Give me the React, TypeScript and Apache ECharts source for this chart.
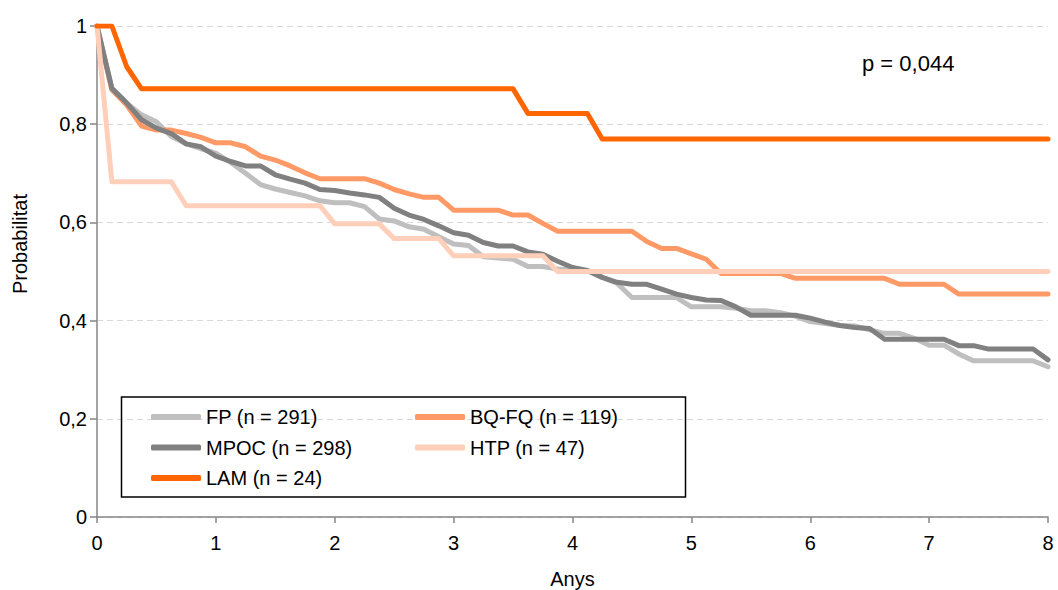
import React, { useEffect, useRef } from "react";
import * as echarts from "echarts";

// Kaplan–Meier style survival curves per diagnosis group (years on the x axis)
const fpX = [0, 0.125, 0.25, 0.375, 0.5, 0.625, 0.75, 0.875, 1, 1.125, 1.25, 1.375, 1.5, 1.625, 1.75, 1.875, 2, 2.125, 2.25, 2.375, 2.5, 2.625, 2.75, 2.875, 3, 3.125, 3.25, 3.5, 3.625, 3.75, 3.875, 4, 4.125, 4.25, 4.375, 4.5, 4.875, 5, 5.25, 5.375, 5.5, 5.625, 5.75, 5.875, 6, 6.125, 6.25, 6.375, 6.5, 6.625, 6.75, 6.875, 7, 7.125, 7.25, 7.375, 7.875, 8];
const fpY = [1, 0.873, 0.843, 0.819, 0.805, 0.775, 0.76, 0.75, 0.741, 0.722, 0.7, 0.677, 0.668, 0.661, 0.654, 0.644, 0.64, 0.64, 0.632, 0.607, 0.603, 0.591, 0.586, 0.571, 0.556, 0.553, 0.53, 0.525, 0.51, 0.51, 0.505, 0.503, 0.502, 0.488, 0.476, 0.447, 0.447, 0.428, 0.428, 0.425, 0.42, 0.42, 0.416, 0.409, 0.398, 0.394, 0.39, 0.389, 0.381, 0.374, 0.374, 0.364, 0.35, 0.35, 0.332, 0.318, 0.318, 0.306];

const bqX = [0, 0.125, 0.25, 0.375, 0.5, 0.625, 0.75, 0.875, 1, 1.125, 1.25, 1.375, 1.5, 1.625, 1.75, 1.875, 2.25, 2.375, 2.5, 2.625, 2.75, 2.875, 3, 3.375, 3.5, 3.625, 3.75, 3.875, 4.5, 4.625, 4.75, 4.875, 5, 5.125, 5.25, 5.75, 5.875, 6.625, 6.75, 7.125, 7.25, 8];
const bqY = [1, 0.87, 0.839, 0.796, 0.788, 0.788, 0.781, 0.773, 0.762, 0.762, 0.754, 0.735, 0.727, 0.715, 0.701, 0.689, 0.689, 0.68, 0.667, 0.658, 0.651, 0.651, 0.625, 0.625, 0.615, 0.615, 0.598, 0.582, 0.582, 0.561, 0.547, 0.547, 0.536, 0.525, 0.496, 0.496, 0.486, 0.486, 0.474, 0.474, 0.454, 0.454];

const mpocX = [0, 0.125, 0.25, 0.375, 0.5, 0.625, 0.75, 0.875, 1, 1.125, 1.25, 1.375, 1.5, 1.625, 1.75, 1.875, 2, 2.125, 2.25, 2.375, 2.5, 2.625, 2.75, 2.875, 3, 3.125, 3.25, 3.375, 3.5, 3.625, 3.75, 3.875, 4, 4.125, 4.25, 4.375, 4.5, 4.625, 4.75, 4.875, 5, 5.125, 5.25, 5.375, 5.5, 5.875, 6, 6.125, 6.25, 6.375, 6.5, 6.625, 7.125, 7.25, 7.375, 7.5, 7.875, 8];
const mpocY = [1, 0.873, 0.843, 0.809, 0.792, 0.781, 0.76, 0.754, 0.735, 0.724, 0.715, 0.715, 0.697, 0.688, 0.68, 0.667, 0.665, 0.66, 0.656, 0.651, 0.629, 0.615, 0.606, 0.593, 0.579, 0.574, 0.559, 0.552, 0.552, 0.54, 0.535, 0.521, 0.508, 0.502, 0.488, 0.478, 0.474, 0.474, 0.464, 0.454, 0.447, 0.442, 0.441, 0.428, 0.411, 0.411, 0.405, 0.397, 0.39, 0.386, 0.384, 0.362, 0.362, 0.349, 0.349, 0.342, 0.342, 0.32];

const htpX = [0, 0.125, 0.625, 0.75, 1.875, 2, 2.375, 2.5, 2.875, 3, 3.75, 3.875, 8];
const htpY = [1, 0.683, 0.683, 0.634, 0.634, 0.597, 0.597, 0.567, 0.567, 0.532, 0.532, 0.5, 0.5];

const lamX = [0, 0.125, 0.25, 0.375, 3.5, 3.625, 4.125, 4.25, 8];
const lamY = [1, 1, 0.917, 0.872, 0.872, 0.822, 0.822, 0.77, 0.77];

const seriesNames = ["FP (n = 291)", "BQ-FQ (n = 119)", "MPOC (n = 298)", "HTP (n = 47)", "LAM (n = 24)"];
const seriesColors = ["#BFBFBF", "#FF9966", "#808080", "#FFCFBA", "#FF6600"];
const seriesXs = [fpX, bqX, mpocX, htpX, lamX];
const seriesYs = [fpY, bqY, mpocY, htpY, lamY];

const yTicks = [0, 0.2, 0.4, 0.6, 0.8, 1];
const pValueText = "p = 0,044";
const xAxisTitle = "Anys";
const yAxisTitle = "Probabilitat";

const FONT = "'Liberation Sans', Arial, sans-serif";

const pairs = (xs: number[], ys: number[]) => xs.map((x, i) => [x, ys[i]]);

export default function App() {
  const ref = useRef<HTMLDivElement>(null);

  useEffect(() => {
    if (!ref.current) return;
    const chart = echarts.init(ref.current, null, { renderer: "svg" });

    const series = seriesNames.map((name, i) => ({
      name,
      type: "line" as const,
      data: pairs(seriesXs[i], seriesYs[i]),
      showSymbol: false,
      symbol: "none",
      color: seriesColors[i],
      lineStyle: { width: 5, color: seriesColors[i], cap: "round", join: "round" },
      z: 2 + i,
    }));

    const legendCommon = {
      orient: "vertical" as const,
      icon: "roundRect",
      itemWidth: 50,
      itemHeight: 6,
      selectedMode: false,
      textStyle: { fontFamily: FONT, fontSize: 20, color: "#000", lineHeight: 20 },
    };

    chart.setOption({
      animation: false,
      backgroundColor: "#fff",
      grid: { left: 97, right: 10, top: 26, bottom: 73, outerBoundsMode: "none" },
      xAxis: {
        type: "value",
        min: 0,
        max: 8,
        interval: 1,
        name: xAxisTitle,
        nameLocation: "middle",
        nameGap: 52,
        nameTextStyle: { fontFamily: FONT, fontSize: 20, color: "#000" },
        axisLine: { show: true, onZero: false, lineStyle: { color: "#868686", width: 1.5 } },
        axisTick: { show: true, length: 6, lineStyle: { color: "#868686", width: 1.5 } },
        axisLabel: { fontFamily: FONT, fontSize: 20, color: "#000", margin: 16 },
        splitLine: { show: false },
      },
      yAxis: {
        type: "value",
        min: 0,
        max: 1,
        interval: 0.2,
        axisLine: { show: true, onZero: false, lineStyle: { color: "#868686", width: 1.5 } },
        axisTick: { show: true, length: 7, lineStyle: { color: "#868686", width: 1.5 } },
        axisLabel: {
          fontFamily: FONT,
          fontSize: 20,
          color: "#000",
          margin: 10,
          formatter: (v: number) => {
            const t = yTicks.find((y) => Math.abs(y - v) < 1e-9);
            return String(t !== undefined ? t : v).replace(".", ",");
          },
        },
        splitLine: { show: true, lineStyle: { color: "#D9D9D9", type: [6, 4], width: 1.2 } },
      },
      legend: [
        { ...legendCommon, left: 146, top: 402, itemGap: 10.5, data: [seriesNames[0], seriesNames[2], seriesNames[4]] },
        { ...legendCommon, left: 410, top: 402, itemGap: 10.5, data: [seriesNames[1], seriesNames[3]] },
      ],
      graphic: [
        {
          type: "rect",
          shape: { x: 121.5, y: 397, width: 564, height: 100 },
          style: { fill: "none", stroke: "#000", lineWidth: 1.5 },
          silent: true,
          z: 10,
        },
        {
          type: "text",
          x: 862,
          y: 63,
          style: { text: pValueText, fontFamily: FONT, fontSize: 22, fill: "#000", verticalAlign: "middle", align: "left" },
          z: 10,
        },
        {
          type: "text",
          x: 20,
          y: 244,
          rotation: Math.PI / 2,
          style: { text: yAxisTitle, fontFamily: FONT, fontSize: 20, fill: "#000", align: "center", verticalAlign: "middle" },
          z: 10,
        },
      ],
      series,
    });

    return () => chart.dispose();
  }, []);

  return <div ref={ref} style={{ position: "fixed", left: 0, top: 0, width: 1058, height: 590 }} />;
}
